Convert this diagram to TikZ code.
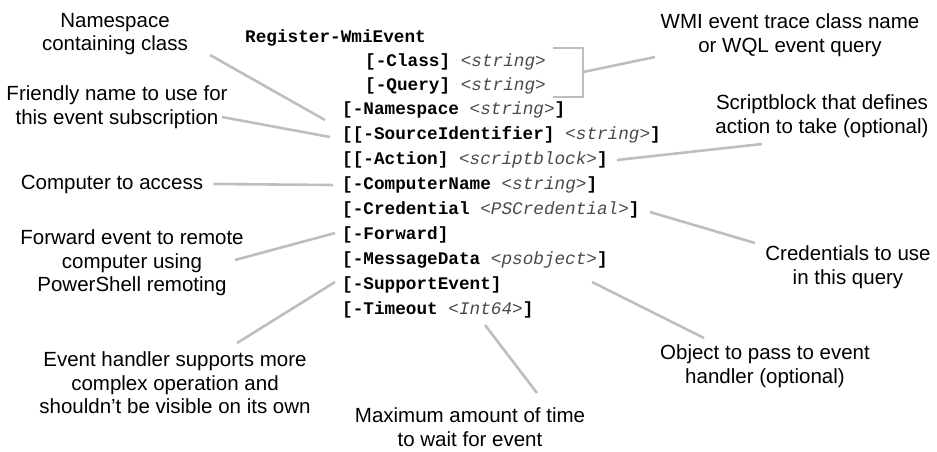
\documentclass[tikz,border=0pt]{standalone}
\usepackage{fontspec}
\setmainfont{Liberation Sans}
\newfontfamily\cf{Liberation Mono}
\definecolor{linegray}{HTML}{BEBEBE}
\definecolor{typegray}{HTML}{4A4A4A}
\newcommand\ty[1]{{\mdseries\itshape\color{typegray}#1}}
\begin{document}
\begin{tikzpicture}[x=1pt,y=-1pt,
  code/.style={anchor=west, inner sep=0pt, font={\cf\bfseries\fontsize{17.7}{20}\selectfont}, text height=11pt, text depth=3pt},
  lbl/.style={align=center, inner sep=0pt, font={\fontsize{20.5}{23.5}\selectfont}},
  conn/.style={draw=linegray, line width=2.6pt}]
\useasboundingbox (0,0) rectangle (937,451);
% code lines
\node[code] (cReg) at (245,38) {Register-WmiEvent};
\node[code] (cCls) at (365,62) {[-Class] \ty{<string>}};
\node[code] (cQry) at (365,86) {[-Query] \ty{<string>}};
\node[code] (cNs)  at (342,110) {[-Namespace \ty{<string>}]};
\node[code] (cSrc) at (342,135) {[[-SourceIdentifier] \ty{<string>}]};
\node[code] (cAct) at (342,160) {[[-Action] \ty{<scriptblock>}]};
\node[code] (cCmp) at (342,185) {[-ComputerName \ty{<string>}]};
\node[code] (cCrd) at (342,210) {[-Credential \ty{<PSCredential>}]};
\node[code] (cFwd) at (342,235) {[-Forward]};
\node[code] (cMsg) at (342,260) {[-MessageData \ty{<psobject>}]};
\node[code] (cSup) at (342,285) {[-SupportEvent]};
\node[code] (cTim) at (342,310) {[-Timeout \ty{<Int64>}]};
% labels
\node[lbl] (lNs) at (115,34) {Namespace\\containing class};
\node[lbl] (lFr) at (117,107) {Friendly name to use for\\this event subscription};
\node[lbl] (lCo) at (112,184) {Computer to access};
\node[lbl] (lFw) at (132,263) {Forward event to remote\\computer using\\PowerShell remoting};
\node[lbl] (lSu) at (175,383) {Event handler supports more\\complex operation and\\shouldn’t be visible on its own};
\node[lbl] (lTi) at (470,427) {Maximum amount of time\\to wait for event};
\node[lbl] (lOb) at (765,366) {Object to pass to event\\handler (optional)};
\node[lbl] (lCr) at (848,267) {Credentials to use\\in this query};
\node[lbl] (lSc) at (822,116) {Scriptblock that defines\\action to take (optional)};
\node[lbl] (lWm) at (790,35) {WMI event trace class name\\or WQL event query};
% bracket
\coordinate (bTop) at (553,48);
\coordinate (bBot) at (553,97);
\coordinate (bMid) at (583,72);
\draw[conn] (bTop) -- (583,48) -- (583,97) -- (bBot);
% connectors
\coordinate (eWm) at (655,57);
\draw[conn] (bMid) -- (eWm);
\draw[conn] (210,55) -- ([xshift=-17pt,yshift=-10pt]cNs.west);
\draw[conn] (222,117) -- ([xshift=-12pt,yshift=-2pt]cSrc.west);
\draw[conn] (lCo.east) ++(10,0) -- ([xshift=-9pt]cCmp.west);
\draw[conn] (235,260) -- ([xshift=-7pt,yshift=2pt]cFwd.west);
\draw[conn] (237,343) -- ([xshift=-7pt,yshift=3pt]cSup.west);
\draw[conn] (485,325) -- (537,393);
\draw[conn] (592,282) -- (704,338);
\draw[conn] (650,212) -- (755,243);
\draw[conn] (617,160) -- (762,144);
\end{tikzpicture}
\end{document}
